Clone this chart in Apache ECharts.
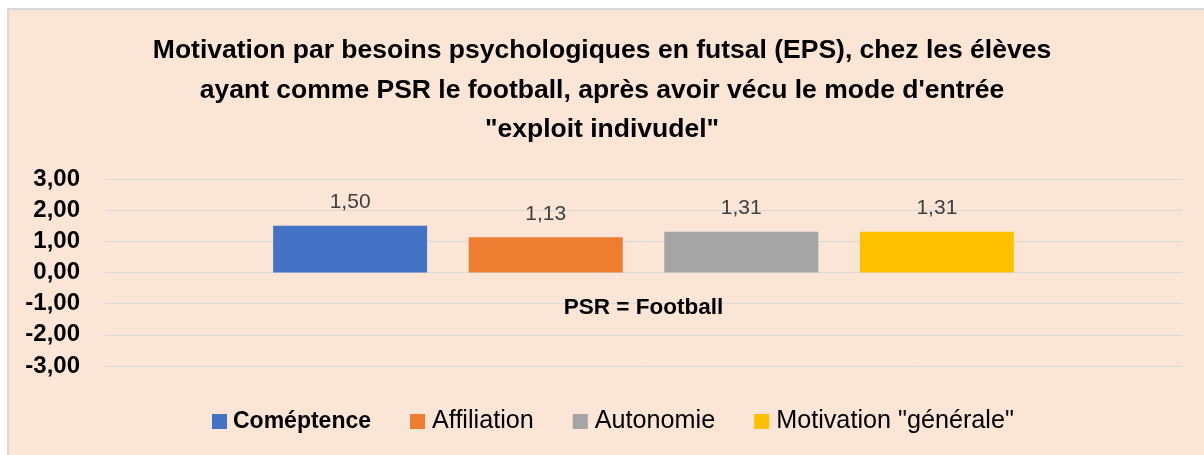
<!DOCTYPE html>
<html>
<head>
<meta charset="utf-8">
<script src="https://cdn.jsdelivr.net/npm/echarts@6/dist/echarts.min.js"></script>
<style>
  html, body { margin: 0; padding: 0; background: #ffffff; overflow: hidden; }
  #panel { position: absolute; left: 7px; top: 8px; width: 1300px; height: 500px;
           background: #FBE5D6; border-left: 2px solid #D9D9D9; border-top: 2px solid #D9D9D9; }
  #chart { position: absolute; left: 0; top: 0; width: 1204px; height: 455px; }
</style>
</head>
<body>
<div id="panel"></div>
<div id="chart"></div>
<script>
const titleText = 'Motivation par besoins psychologiques en futsal (EPS), chez les élèves\nayant comme PSR le football, après avoir vécu le mode d\'entrée\n"exploit indivudel"';
const categories = ['PSR = Football'];
const seriesNames = ['Coméptence', 'Affiliation', 'Autonomie', 'Motivation "générale"'];
const seriesValues = [1.50, 1.13, 1.31, 1.31];
const seriesColors = ['#4472C4', '#ED7D31', '#A5A5A5', '#FFC000'];
const yMin = -3, yMax = 3, yInterval = 1;

const FONT = '"Liberation Sans", Arial, sans-serif';
const fmt = v => Number(v).toFixed(2).replace('.', ',');

const chart = echarts.init(document.getElementById('chart'), null, { renderer: 'canvas' });
chart.setOption({
  backgroundColor: 'transparent',
  animation: false,
  title: {
    text: titleText,
    left: 'center',
    top: 26,
    textStyle: { fontFamily: FONT, fontSize: 26.5, fontWeight: 'bold', color: '#000', lineHeight: 39.5 }
  },
  legend: {
    left: 212,
    top: 409,
    padding: 0,
    itemWidth: 15,
    itemHeight: 15,
    itemGap: 39,
    icon: 'rect',
    data: seriesNames,
    formatter: name => name === seriesNames[0] ? '{b|' + name + '}' : '{n|' + name + '}',
    textStyle: {
      fontFamily: FONT, fontSize: 25.2, color: '#000',
      rich: {
        b: { fontFamily: FONT, fontSize: 23, fontWeight: 'bold', color: '#000', padding: [0, 0, 0, 1] },
        n: { fontFamily: FONT, fontSize: 25.2, color: '#000', padding: [0, 0, 0, 2] }
      }
    }
  },
  grid: { left: 105, right: 22, top: 179, bottom: 89, containLabel: false },
  xAxis: {
    type: 'category',
    data: categories,
    offset: -94,
    axisLine: { show: false },
    axisTick: { show: false },
    axisLabel: { margin: 24, fontFamily: FONT, fontSize: 22.5, fontWeight: 'bold', color: '#000' }
  },
  yAxis: {
    type: 'value',
    min: yMin, max: yMax, interval: yInterval,
    axisLine: { show: false },
    axisTick: { show: false },
    splitLine: { lineStyle: { color: '#D9D9D9', width: 1 } },
    axisLabel: { margin: 25, formatter: fmt, fontFamily: FONT, fontSize: 24, fontWeight: 'bold', color: '#000' }
  },
  series: seriesNames.map((name, i) => ({
    name: name,
    type: 'bar',
    barWidth: 154,
    barGap: '27%',
    itemStyle: { color: seriesColors[i] },
    label: {
      show: true, position: 'top', distance: 13,
      formatter: p => fmt(p.value),
      fontFamily: FONT, fontSize: 21, color: '#404040'
    },
    data: [seriesValues[i]]
  }))
});
</script>
</body>
</html>
